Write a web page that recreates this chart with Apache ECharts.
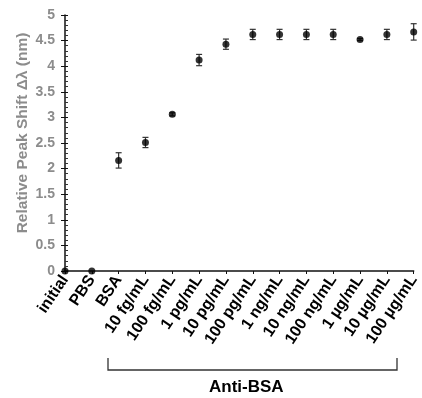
<!DOCTYPE html>
<html><head><meta charset="utf-8">
<script src="https://cdn.jsdelivr.net/npm/echarts@6/dist/echarts.min.js"></script>
<style>html,body{margin:0;padding:0;background:#fff}#c{width:422px;height:398px}</style>
</head><body><div id="c"></div>
<script>
const categories = ['initial','PBS','BSA','10 fg/mL','100 fg/mL','1 pg/mL','10 pg/mL','100 pg/mL','1 ng/mL','10 ng/mL','100 ng/mL','1 \u00b5g/mL','10 \u00b5g/mL','100 \u00b5g/mL'];
const shiftValues = [0, 0, 2.16, 2.51, 3.06, 4.12, 4.43, 4.62, 4.62, 4.62, 4.62, 4.52, 4.62, 4.67];
const shiftErrors = [0, 0, 0.15, 0.10, 0.03, 0.11, 0.10, 0.10, 0.10, 0.10, 0.10, 0.02, 0.10, 0.16];
const yTicks = [0, 0.5, 1, 1.5, 2, 2.5, 3, 3.5, 4, 4.5, 5];

const chart = echarts.init(document.getElementById('c'));
const FONT = '"Liberation Sans", Arial, sans-serif';
const errData = shiftValues.map((v, i) => [i, v - shiftErrors[i], v + shiftErrors[i]]);
chart.setOption({
  animation: false,
  grid: {left: 65, right: 6, top: 15, bottom: 127, containLabel: false},
  xAxis: {
    type: 'category', data: categories, boundaryGap: false,
    axisLine: {lineStyle: {color: '#111', width: 1.5}},
    axisTick: {show: true, inside: false, length: 3, lineStyle: {color: '#111'}},
    axisLabel: {rotate: 56, interval: 0, color: '#000', fontWeight: 'bold', fontSize: 16, fontFamily: FONT, margin: 6},
    splitLine: {show: false}
  },
  yAxis: [{
    type: 'value', min: 0, max: 5, interval: 0.5,
    name: 'Relative Peak Shift \u0394\u03bb (nm)', nameLocation: 'middle', nameGap: 34, nameMoveOverlap: false,
    nameTextStyle: {color: '#8c8c8c', fontWeight: 'bold', fontSize: 15.5, fontFamily: FONT, padding: [0, 0, 0, 20]},
    axisLine: {show: true, lineStyle: {color: '#111', width: 1.5}},
    axisTick: {show: true, length: 4, lineStyle: {color: '#111'}},
    axisLabel: {color: '#8c8c8c', fontWeight: 'bold', fontSize: 14, fontFamily: FONT, margin: 10,
      formatter: v => yTicks.includes(v) ? String(v) : ''},
    splitLine: {show: false}
  }, {
    type: 'value', min: 0, max: 5, interval: 0.5, position: 'left',
    axisLine: {show: false},
    axisTick: {show: true, inside: true, length: 3, lineStyle: {color: '#111'}},
    minorTick: {show: true, splitNumber: 5, length: 3, lineStyle: {color: '#333'}},
    axisLabel: {show: false}, splitLine: {show: false}
  }],
  series: [{
    type: 'custom', data: errData, z: 2,
    renderItem: function (params, api) {
      const x = api.value(0), lo = api.value(1), hi = api.value(2);
      if (hi - lo <= 0) return null;
      const a = api.coord([x, lo]), b = api.coord([x, hi]);
      const w = 3;
      const st = {stroke: '#333', lineWidth: 1.2};
      return {type: 'group', children: [
        {type: 'line', shape: {x1: a[0], y1: a[1], x2: b[0], y2: b[1]}, style: st},
        {type: 'line', shape: {x1: a[0]-w, y1: a[1], x2: a[0]+w, y2: a[1]}, style: st},
        {type: 'line', shape: {x1: b[0]-w, y1: b[1], x2: b[0]+w, y2: b[1]}, style: st}
      ]};
    }
  }, {
    type: 'scatter', data: shiftValues, symbol: 'circle', symbolSize: 7, z: 3,
    itemStyle: {color: '#000'}
  }],
  graphic: [
    {type: 'polyline', shape: {points: [[108, 358], [108, 370], [397, 370], [397, 358]]},
      style: {stroke: '#333', lineWidth: 1.3, fill: null}},
    {type: 'text', left: 247 - 38, top: 379,
      style: {text: 'Anti-BSA', fill: '#000', font: 'bold 17px ' + FONT}}
  ]
});
</script></body></html>
